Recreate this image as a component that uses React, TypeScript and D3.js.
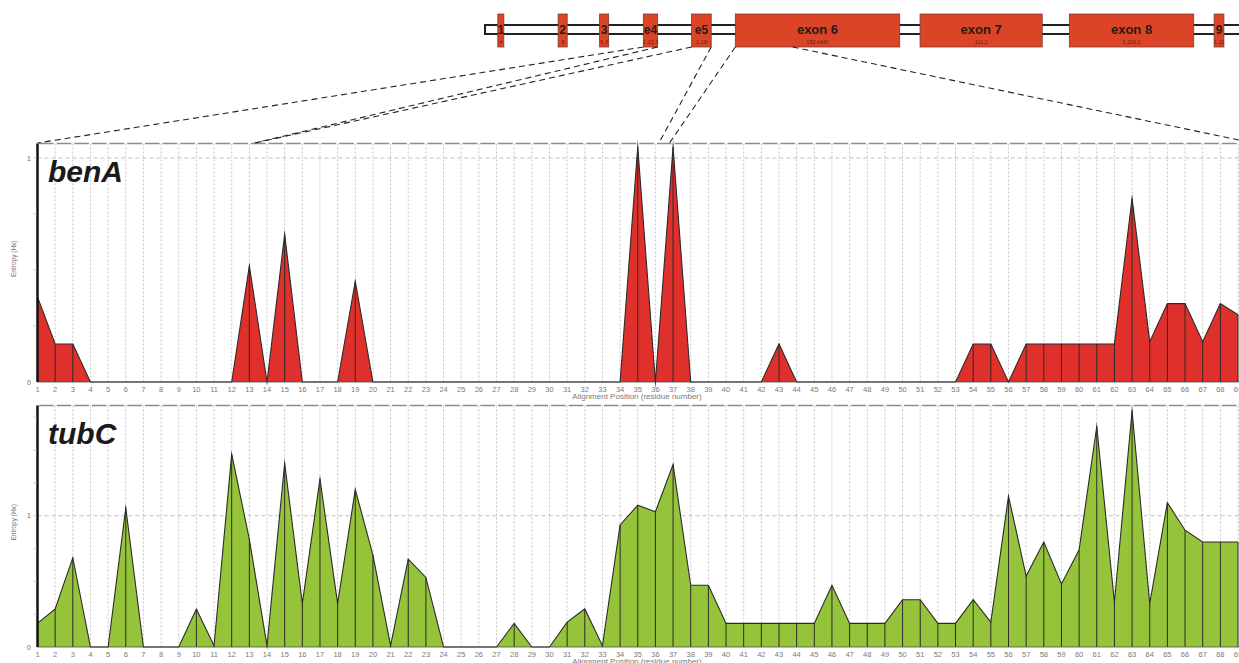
import React from "react";
import * as d3 from "d3";

// alignment positions (residue numbers) shown on both x axes
const positions = d3.range(1, 70);

// Shannon entropy per position
const benA = [
  0.38, 0.17, 0.17, 0, 0, 0, 0, 0, 0, 0, 0,
  0, 0.52, 0, 0.66, 0, 0, 0, 0.45, 0,
  0, 0, 0, 0, 0, 0, 0, 0, 0, 0, 0, 0, 0, 0,
  1.05, 0, 1.05, 0,
  0, 0, 0, 0, 0.17, 0,
  0, 0, 0, 0, 0, 0, 0, 0, 0,
  0.17, 0.17, 0, 0.17, 0.17, 0.17, 0.17, 0.17, 0.17, 0.82, 0.18, 0.35, 0.35, 0.18, 0.35, 0.3,
];
const tubC = [
  0.18, 0.29, 0.68, 0, 0, 1.06, 0, 0, 0, 0.29, 0.01,
  1.47, 0.82, 0.01, 1.4, 0.33, 1.28, 0.33, 1.2, 0.7, 0.01,
  0.67, 0.53, 0, 0, 0, 0, 0.18, 0, 0, 0.19, 0.29, 0.01,
  0.93, 1.08, 1.03, 1.39, 0.47, 0.47, 0.18, 0.18, 0.18, 0.18, 0.18, 0.18,
  0.47, 0.18, 0.18, 0.18, 0.36, 0.36, 0.18, 0.18, 0.36, 0.19,
  1.15, 0.54, 0.8, 0.48, 0.74, 1.68, 0.34, 1.8, 0.33, 1.1, 0.89, 0.8, 0.8, 0.8,
];

// gene model (arbitrary gene units 0..1000)
const exonNames = ["1", "2", "3", "e4", "e5", "exon 6", "exon 7", "exon 8", "9"];
const exonNotes = ["4", "8", "6,3", "1,13,3", "1,18", "152 AMK", "111,2", "1,119,2", "1,11"];
const exonStart = [17, 97, 152, 210, 274, 332, 577, 775, 967];
const exonEnd = [25, 109, 164, 229, 300, 550, 739, 940, 980];

// dashed zoom links: gene unit -> residue position
const linkGene = [210, 229, 274, 300, 332, 408];
const linkResidue = [1, 13.3, 13.3, 36.2, 36.8, 69.05];

const W = 1239;
const H = 663;
const font = "'Liberation Sans', Arial, sans-serif";

const x = d3.scaleLinear().domain([1, 69]).range([37.5, 1238]);
const gene = d3.scaleLinear().domain([0, 1000]).range([485, 1239]);

const panels = [
  { name: "benA", values: benA, fill: "#e0302c", top: 143.5, bottom: 382, yMax: 1.065 },
  { name: "tubC", values: tubC, fill: "#95c43a", top: 405.5, bottom: 647, yMax: 1.84 },
];

const Panel = ({ name, values, fill, top, bottom, yMax }) => {
  const y = d3.scaleLinear().domain([0, yMax]).range([bottom, top]);
  const data = values.map((v, i) => ({ pos: positions[i], v }));
  const area = d3
    .area()
    .x((d) => x(d.pos))
    .y0(y(0))
    .y1((d) => y(d.v));
  const line = d3
    .line()
    .x((d) => x(d.pos))
    .y((d) => y(d.v));
  const step = x(2) - x(1);
  const minor = d3.range(0.25, yMax, 0.25);

  return (
    <g>
      {positions.map((p) => (
        <line
          key={p}
          x1={x(p)}
          x2={x(p)}
          y1={top}
          y2={bottom}
          stroke="#b8b8b8"
          strokeDasharray="2 2"
          strokeWidth={0.8}
        />
      ))}
      <line
        x1={x(1)}
        x2={W}
        y1={top}
        y2={top}
        stroke="#8c8c8c"
        strokeWidth={1.3}
        strokeDasharray={`${step - 3} 3`}
        strokeDashoffset={-1.5}
      />
      <line x1={x(1)} x2={W} y1={y(1)} y2={y(1)} stroke="#b0b0b0" strokeDasharray="4 3" strokeWidth={0.8} />
      <path d={area(data)} fill={fill} />
      {data
        .filter((d) => d.v > 0)
        .map((d) => (
          <line key={d.pos} x1={x(d.pos)} x2={x(d.pos)} y1={y(0)} y2={y(d.v)} stroke="#2b2b2b" strokeWidth={1} />
        ))}
      <path d={line(data)} fill="none" stroke="#2b2b2b" strokeWidth={1.1} strokeLinejoin="miter" strokeMiterlimit={20} />
      <line x1={x(1)} x2={W} y1={bottom} y2={bottom} stroke="#444" strokeWidth={1.4} strokeDasharray="1 1" />
      <line x1={x(1)} x2={x(1)} y1={top} y2={bottom} stroke="#111" strokeWidth={2.5} />
      {minor.map((t) => (
        <line key={t} x1={x(1) - 4} x2={x(1) - 1} y1={y(t)} y2={y(t)} stroke="#bbb" strokeWidth={0.8} />
      ))}
      {[0, 1].map((t) => (
        <text key={t} x={31} y={y(t) + 2.5} fontSize={7} fill="#666" textAnchor="end" fontFamily={font}>
          {t}
        </text>
      ))}
      <text
        transform={`translate(16,${(top + bottom) / 2 - 4}) rotate(-90)`}
        fontSize={6.5}
        fill="#777"
        textAnchor="middle"
        fontFamily={font}
      >
        Entropy (Hx)
      </text>
      {positions.map((p) => (
        <text key={p} x={x(p)} y={bottom + 10} fontSize={7.5} fill="#7a7a7a" textAnchor="middle" fontFamily={font}>
          {p}
        </text>
      ))}
      <text x={637} y={bottom + 17} fontSize={8} fill="#7a7a7a" textAnchor="middle" fontFamily={font}>
        Alignment Position (residue number)
      </text>
      <text
        x={48}
        y={top + 38.5}
        fontSize={30}
        fontWeight="bold"
        fontStyle="italic"
        fill="#1a1a1a"
        fontFamily={font}
      >
        {name}
      </text>
    </g>
  );
};

const GeneModel = () => {
  const exonTop = 14;
  const exonBottom = 47;
  return (
    <g>
      <rect
        x={gene(0)}
        y={25}
        width={W - gene(0) + 5}
        height={9}
        fill="#fff"
        stroke="#222"
        strokeWidth={2}
      />
      {exonNames.map((name, i) => {
        const x0 = gene(exonStart[i]);
        const x1 = gene(exonEnd[i]);
        const big = name.startsWith("exon");
        return (
          <g key={name}>
            <rect x={x0} y={exonTop} width={x1 - x0} height={exonBottom - exonTop} fill="#dc4428" stroke="#7a3a30" strokeWidth={0.8} />
            <text
              x={(x0 + x1) / 2}
              y={big ? 34 : 34}
              fontSize={big ? 13 : 12}
              fontWeight="bold"
              fill="#2a1a14"
              textAnchor="middle"
              fontFamily={font}
            >
              {name}
            </text>
            <text x={(x0 + x1) / 2} y={44} fontSize={5.5} fill="#5a2418" textAnchor="middle" fontFamily={font}>
              {exonNotes[i]}
            </text>
          </g>
        );
      })}
      {linkGene.map((g, i) => (
        <line
          key={i}
          x1={gene(g)}
          y1={exonBottom}
          x2={Math.min(x(linkResidue[i]), W)}
          y2={i === 5 ? 140 : 143}
          stroke="#222"
          strokeWidth={1.1}
          strokeDasharray="6 4"
        />
      ))}
    </g>
  );
};

const App = () => (
  <svg
    width={W}
    height={H}
    style={{ position: "absolute", left: 0, top: 0, background: "#fff" }}
  >
    <rect width={W} height={H} fill="#fff" />
    {panels.map((p) => (
      <Panel key={p.name} {...p} />
    ))}
    <GeneModel />
  </svg>
);

export default App;
